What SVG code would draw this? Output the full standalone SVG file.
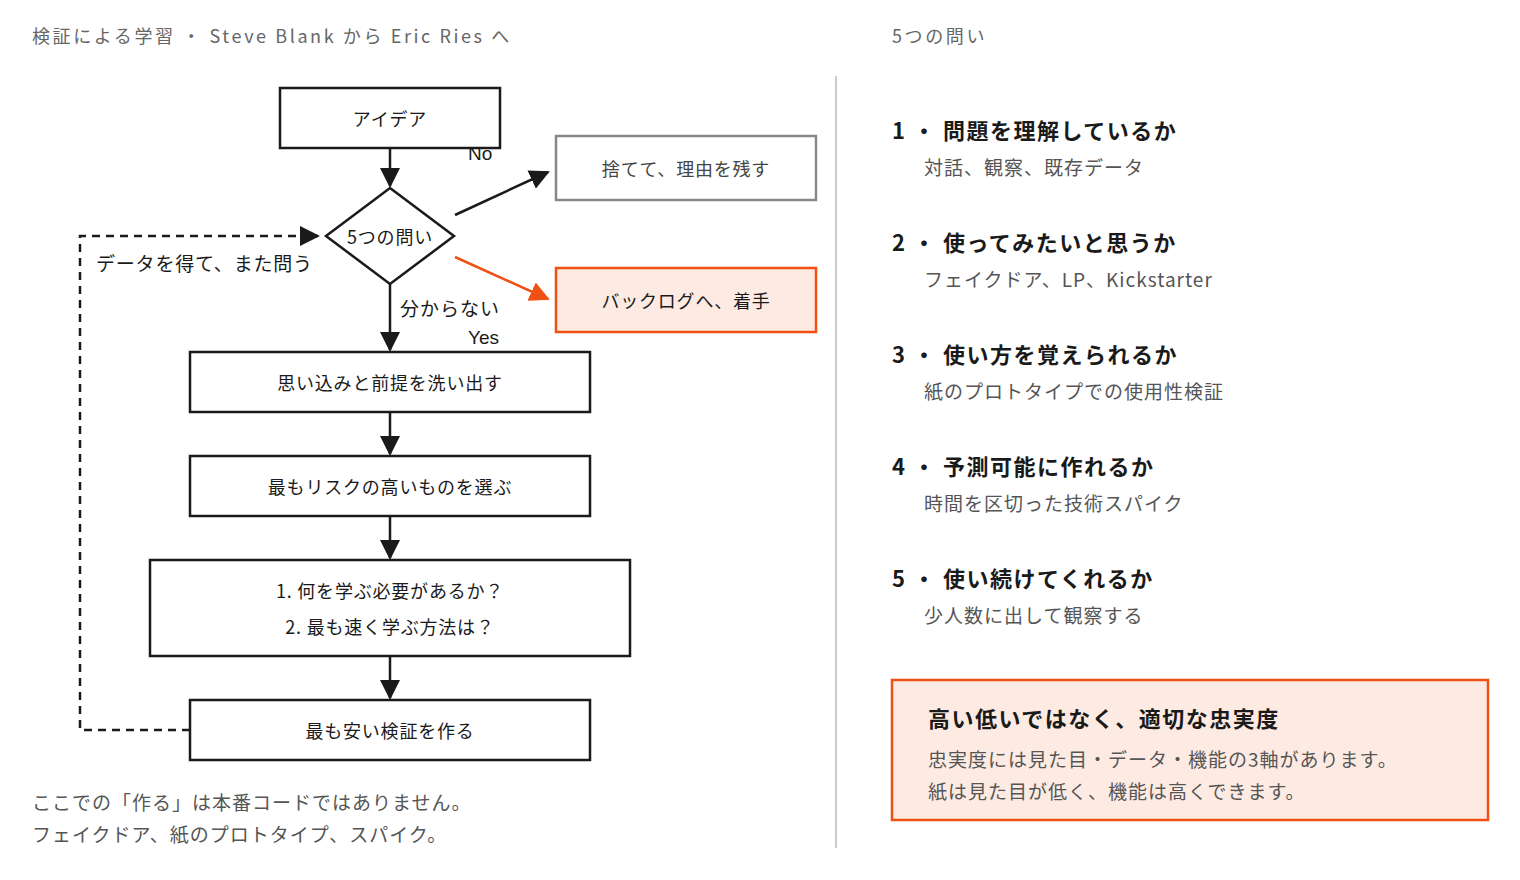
<svg xmlns="http://www.w3.org/2000/svg" width="1520" height="880" viewBox="0 0 1520 880">
<style>
text{font-family:"Hiragino Sans","Noto Sans CJK JP",sans-serif;fill:#1a1a1a}
.box{fill:#fff;stroke:#1a1a1a;stroke-width:2.5}
.t{font-size:18px;text-anchor:middle;dominant-baseline:central;letter-spacing:0.8px}
.hd{font-size:18px;fill:#666;letter-spacing:2.6px}
.q{font-size:22px;font-weight:bold;letter-spacing:1.5px}
.s{font-size:19px;fill:#555;letter-spacing:1px}
.e{font-family:"Liberation Sans",Arial,sans-serif;font-size:19px}
.ln{stroke:#1a1a1a;stroke-width:2.5;fill:none}
</style>
<defs>
<marker id="ab" viewBox="0 0 10 10" refX="9" refY="5" markerWidth="8" markerHeight="8" orient="auto"><path d="M0,0L10,5L0,10z" fill="#1a1a1a"/></marker>
<marker id="ao" viewBox="0 0 10 10" refX="9" refY="5" markerWidth="8" markerHeight="8" orient="auto"><path d="M0,0L10,5L0,10z" fill="#f05014"/></marker>
</defs>
<rect width="1520" height="880" fill="#fff"/>
<text x="32" y="43" class="hd">検証による学習 ・ Steve Blank から Eric Ries へ</text>
<text x="892" y="43" class="hd">5つの問い</text>
<line x1="836" y1="76" x2="836" y2="848" stroke="#ccc" stroke-width="2"/>
<g id="connectors">
<line class="ln" x1="390" y1="148" x2="390" y2="186" marker-end="url(#ab)"/>
<line class="ln" x1="455" y1="215" x2="548" y2="172" marker-end="url(#ab)"/>
<line x1="455" y1="257" x2="548" y2="299" stroke="#f05014" stroke-width="2.5" marker-end="url(#ao)"/>
<line class="ln" x1="390" y1="284" x2="390" y2="350" marker-end="url(#ab)"/>
<line class="ln" x1="390" y1="412" x2="390" y2="454" marker-end="url(#ab)"/>
<line class="ln" x1="390" y1="516" x2="390" y2="558" marker-end="url(#ab)"/>
<line class="ln" x1="390" y1="656" x2="390" y2="698" marker-end="url(#ab)"/>
<path class="ln" d="M190,730H80V236H318" stroke-dasharray="8,6" marker-end="url(#ab)"/>
<text x="468" y="160" class="e">No</text>
<text x="400" y="316" font-size="19" letter-spacing="1">分からない</text>
<text x="468" y="344" class="e">Yes</text>
<text x="96" y="271" font-size="19" letter-spacing="0.8">データを得て、また問う</text>
</g>
<g id="idea"><rect class="box" x="280" y="88" width="220" height="60"/><text class="t" x="390" y="118">アイデア</text></g>
<g id="q5"><polygon class="box" points="390,188 454,236 390,284 326,236"/><text class="t" x="390" y="236">5つの問い</text></g>
<g id="discard"><rect x="556" y="136" width="260" height="64" fill="#fff" stroke="#888" stroke-width="2.5"/><text class="t" x="686" y="168" style="fill:#444">捨てて、理由を残す</text></g>
<g id="backlog"><rect x="556" y="268" width="260" height="64" fill="#fdebe3" stroke="#f05014" stroke-width="2.5"/><text class="t" x="686" y="300">バックログへ、着手</text></g>
<g id="assume"><rect class="box" x="190" y="352" width="400" height="60"/><text class="t" x="390" y="382">思い込みと前提を洗い出す</text></g>
<g id="risk"><rect class="box" x="190" y="456" width="400" height="60"/><text class="t" x="390" y="486">最もリスクの高いものを選ぶ</text></g>
<g id="learn"><rect class="box" x="150" y="560" width="480" height="96"/><text class="t" x="390" y="590">1. 何を学ぶ必要があるか？</text><text class="t" x="390" y="626">2. 最も速く学ぶ方法は？</text></g>
<g id="build"><rect class="box" x="190" y="700" width="400" height="60"/><text class="t" x="390" y="730">最も安い検証を作る</text></g>
<g id="note"><text x="32" y="810" class="s">ここでの「作る」は本番コードではありません。</text><text x="32" y="842" class="s">フェイクドア、紙のプロトタイプ、スパイク。</text></g>
<g id="list">
<text x="892" y="139" class="q">1 ・ 問題を理解しているか</text><text x="924" y="175" class="s">対話、観察、既存データ</text>
<text x="892" y="251" class="q">2 ・ 使ってみたいと思うか</text><text x="924" y="287" class="s">フェイクドア、LP、Kickstarter</text>
<text x="892" y="363" class="q">3 ・ 使い方を覚えられるか</text><text x="924" y="399" class="s">紙のプロトタイプでの使用性検証</text>
<text x="892" y="475" class="q">4 ・ 予測可能に作れるか</text><text x="924" y="511" class="s">時間を区切った技術スパイク</text>
<text x="892" y="587" class="q">5 ・ 使い続けてくれるか</text><text x="924" y="623" class="s">少人数に出して観察する</text>
</g>
<g id="callout"><rect x="892" y="680" width="596" height="140" fill="#fdebe3" stroke="#f05014" stroke-width="2.5"/>
<text x="928" y="727" class="q">高い低いではなく、適切な忠実度</text>
<text x="928" y="767" class="s">忠実度には見た目・データ・機能の3軸があります。</text>
<text x="928" y="799" class="s">紙は見た目が低く、機能は高くできます。</text></g>
</svg>
